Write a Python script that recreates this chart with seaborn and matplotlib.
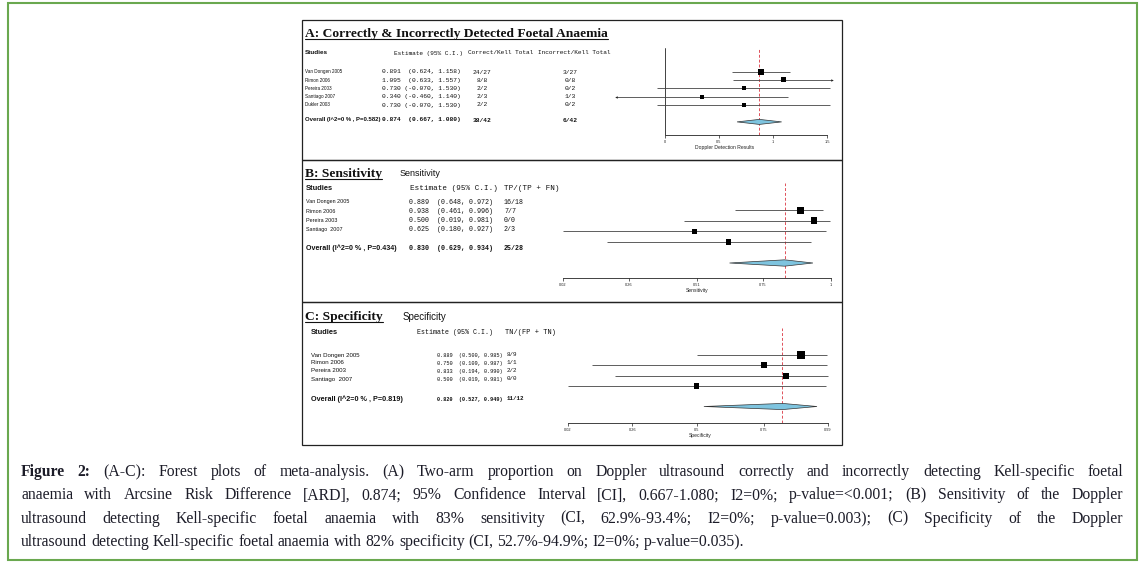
import numpy as np
import pandas as pd
import matplotlib
matplotlib.use('Agg')
import matplotlib.pyplot as plt
import seaborn as sns
from matplotlib.patches import Rectangle, Polygon

W, H = 1147, 568

# ---- panel A: two-arm, arcsine risk difference
a_studies = ['Van Dongen 2005', 'Rimon 2006', 'Pereira 2003', 'Santiago 2007', 'Dukler 2003']
a_est = [0.891, 1.095, 0.730, 0.340, 0.730]
a_lo = [0.624, 0.633, -0.070, -0.460, -0.070]
a_hi = [1.158, 1.557, 1.530, 1.140, 1.530]
a_correct = ['24/27', '8/8', '2/2', '2/3', '2/2']
a_incorrect = ['3/27', '0/8', '0/2', '1/3', '0/2']
a_box = [6, 5, 4, 4, 4]
a_overall = [0.874, 0.667, 1.080]
a_overall_n = ['38/42', '6/42']
a_het = 'Overall (I^2=0 % , P=0.582)'
a_ticks = [0, 0.5, 1, 1.5]
a_ticklabels = ['0', '0.5', '1', '1.5']

# ---- panel B: sensitivity
b_studies = ['Van Dongen 2005', 'Rimon 2006', 'Pereira 2003', 'Santiago  2007']
b_est = [0.889, 0.938, 0.500, 0.625]
b_lo = [0.648, 0.461, 0.019, 0.180]
b_hi = [0.972, 0.996, 0.981, 0.927]
b_counts = ['16/18', '7/7', '0/0', '2/3']
b_box = [7, 6.5, 5, 5.5]
b_overall = [0.830, 0.629, 0.934]
b_overall_n = '25/28'
b_het = 'Overall (I^2=0 % , P=0.434)'
b_ticks = [0.02, 0.26, 0.51, 0.75, 1]
b_ticklabels = ['0.02', '0.26', '0.51', '0.75', '1']

# ---- panel C: specificity
c_studies = ['Van Dongen 2005', 'Rimon 2006', 'Pereira 2003', 'Santiago  2007']
c_est = [0.889, 0.750, 0.833, 0.500]
c_lo = [0.500, 0.109, 0.194, 0.019]
c_hi = [0.985, 0.987, 0.990, 0.981]
c_counts = ['8/9', '1/1', '2/2', '0/0']
c_box = [7.5, 6, 6, 5.5]
c_overall = [0.820, 0.527, 0.949]
c_overall_n = '11/12'
c_het = 'Overall (I^2=0 % , P=0.819)'
c_ticks = [0.02, 0.26, 0.5, 0.75, 0.99]
c_ticklabels = ['0.02', '0.26', '0.5', '0.75', '0.99']

caption = [
    'Figure 2: (A-C): Forest plots of meta-analysis. (A) Two-arm proportion on Doppler ultrasound correctly and incorrectly detecting Kell-specific foetal',
    'anaemia with Arcsine Risk Difference [ARD], 0.874; 95% Confidence Interval [CI], 0.667-1.080; I2=0%; p-value=<0.001; (B) Sensitivity of the Doppler',
    'ultrasound detecting Kell-specific foetal anaemia with 83% sensitivity (CI, 62.9%-93.4%; I2=0%; p-value=0.003); (C) Specificity of the Doppler',
    'ultrasound detecting Kell-specific foetal anaemia with 82% specificity (CI, 52.7%-94.9%; I2=0%; p-value=0.035).',
]

sns.set_theme(style='white')
plt.rcParams['font.family'] = ['Liberation Sans', 'DejaVu Sans']

SANS = 'Liberation Sans'
MONO = 'Liberation Mono'
SERIF = 'Liberation Serif'

fig = plt.figure(figsize=(W / 100, H / 100), dpi=100)
bg = fig.add_axes([0, 0, 1, 1])
bg.set_xlim(0, W)
bg.set_ylim(H, 0)
bg.axis('off')
renderer = fig.canvas.get_renderer()


def txt(x, y, s, size, family=SANS, weight='normal', ha='left', color='#111'):
    return bg.text(x, y, s, fontsize=size, family=family, fontweight=weight,
                   ha=ha, va='center', color=color)


def title(x, y, s, size):
    t = txt(x, y, s, size, family=SERIF, weight='bold')
    bb = t.get_window_extent(renderer=renderer)
    bg.plot([x, x + bb.width], [y + bb.height * 0.42] * 2, color='#111', lw=0.8)


def ci_str(e, l, h):
    return f'{e:.3f} ' + f'({l:.3f}, {h:.3f})'.rjust(15)


# outer green frame and the three panel boxes
bg.add_patch(Rectangle((8, 3), 1129, 557, fill=False, ec='#6aa84f', lw=1.5))
for top, bot in [(20, 160), (160, 302), (302, 445)]:
    bg.add_patch(Rectangle((302, top), 540, bot - top, fill=False, ec='#222', lw=0.9))


def forest(box, xmap, py0, dy, est, lo, hi, sizes, overall, ov_idx, ticks, labels,
           xlabel, dh, clip=None, null_line=False):
    L, T, R, B = box
    d0, p0, d1, p1 = xmap
    s = (p1 - p0) / (d1 - d0)
    ax = fig.add_axes([L / W, 1 - B / H, (R - L) / W, (B - T) / H])
    ax.patch.set_alpha(0)
    ax.set_xlim(d0 + (L - p0) / s, d0 + (R - p0) / s)
    ax.set_ylim((B - py0) / dy, (T - py0) / dy)
    df = pd.DataFrame({'est': est, 'lo': lo, 'hi': hi, 'row': np.arange(len(est)),
                       'area': [(v * 0.72) ** 2 for v in sizes]})
    x0 = df['lo'].to_numpy(dtype=float)
    x1 = df['hi'].to_numpy(dtype=float)
    if clip is not None:
        x0c, x1c = np.clip(x0, *clip), np.clip(x1, *clip)
    else:
        x0c, x1c = x0, x1
    ax.hlines(df['row'], x0c, x1c, color='#444', lw=0.6, zorder=2)
    if clip is not None:
        for r, a, b, ac, bc in zip(df['row'], x0, x1, x0c, x1c):
            if a < ac:
                ax.plot(ac, r, marker='<', ms=1.8, color='#222', mew=0)
            if b > bc:
                ax.plot(bc, r, marker='>', ms=1.8, color='#222', mew=0)
    sns.scatterplot(data=df, x='est', y='row', marker='s', color='black', s=df['area'],
                    edgecolor='black', linewidth=0, legend=False, ax=ax, zorder=3)
    e, l, h = overall
    ax.add_patch(Polygon([(l, ov_idx), (e, ov_idx - dh), (h, ov_idx), (e, ov_idx + dh)],
                         closed=True, fc='#7ec4df', ec='#333', lw=0.5, zorder=3))
    ax.axvline(e, color='#e0505a', ls=(0, (3, 2)), lw=0.7, zorder=1)
    if null_line:
        ax.axvline(0, color='#222', lw=0.6, zorder=1)
    sns.despine(ax=ax, left=True)
    ax.spines['bottom'].set_bounds(ticks[0], ticks[-1])
    ax.spines['bottom'].set_linewidth(0.6)
    ax.spines['bottom'].set_color('#222')
    ax.set_xticks(ticks)
    ax.set_xticklabels(labels)
    ax.set_yticks([])
    ax.tick_params(axis='x', bottom=True, length=2, width=0.5, pad=1.5,
                   labelsize=2.8, colors='#222')
    ax.set_xlabel(xlabel, fontsize=3.6, labelpad=0.6, color='#222')
    ax.set_ylabel('')
    return ax


# ---- panel A
title(305, 34, 'A: Correctly & Incorrectly Detected Foetal Anaemia', 9.7)
txt(305, 53, 'Studies', 4.6, weight='bold')
txt(394, 53, 'Estimate (95% C.I.)', 4.4, family=MONO)
txt(468, 53, 'Correct/Kell Total', 4.4, family=MONO)
txt(538, 53, 'Incorrect/Kell Total', 4.4, family=MONO)
for i in range(len(a_studies)):
    y = 72 + 8.25 * i
    txt(305, y, a_studies[i], 3.3)
    txt(382, y, ci_str(a_est[i], a_lo[i], a_hi[i]), 4.5, family=MONO)
    txt(482, y, a_correct[i], 4.5, family=MONO, ha='center')
    txt(570, y, a_incorrect[i], 4.5, family=MONO, ha='center')
txt(305, 120, a_het, 4.3, weight='bold')
txt(382, 120, ci_str(*a_overall), 4.5, family=MONO, weight='bold')
txt(482, 120, a_overall_n[0], 4.5, family=MONO, weight='bold', ha='center')
txt(570, 120, a_overall_n[1], 4.5, family=MONO, weight='bold', ha='center')
forest((610, 48, 840, 135), (0, 665, 1.5, 827), 71.5, 8.4, a_est, a_lo, a_hi, a_box,
       a_overall, 6.0, a_ticks, a_ticklabels, 'Doppler Detection Results', 0.3,
       clip=(-0.45, 1.55), null_line=True)

# ---- panel B
title(305, 174, 'B: Sensitivity', 9.7)
txt(400, 173, 'Sensitivity', 6.5)
txt(306, 189, 'Studies', 5.4, weight='bold')
txt(410, 189, 'Estimate (95% C.I.)', 5.5, family=MONO)
txt(504, 189, 'TP/(TP + FN)', 5.5, family=MONO)
for i in range(len(b_studies)):
    y = 202 + 9.2 * i
    txt(306, y, b_studies[i], 3.9)
    txt(409, y, ci_str(b_est[i], b_lo[i], b_hi[i]), 4.8, family=MONO)
    txt(504, y, b_counts[i], 4.8, family=MONO)
txt(306, 248, b_het, 5.1, weight='bold')
txt(409, 248, ci_str(*b_overall), 4.8, family=MONO, weight='bold')
txt(504, 248, b_overall_n, 4.8, family=MONO, weight='bold')
forest((555, 183, 840, 278), (0.02, 563, 1, 831), 210, 10.6, b_est, b_lo, b_hi, b_box,
       b_overall, 5, b_ticks, b_ticklabels, 'Sensitivity', 0.3)

# ---- panel C
title(305, 317, 'C: Specificity', 9.7)
txt(403, 317, 'Specificity', 7.0)
txt(311, 333, 'Studies', 5.4, weight='bold')
txt(417, 333, 'Estimate (95% C.I.)', 4.8, family=MONO)
txt(505, 333, 'TN/(FP + TN)', 5.0, family=MONO)
for i in range(len(c_studies)):
    y = 355 + 8 * i
    txt(311, y, c_studies[i], 4.4)
    txt(437, y, ci_str(c_est[i], c_lo[i], c_hi[i]), 3.8, family=MONO)
    txt(507, y, c_counts[i], 4.2, family=MONO)
txt(311, 399, c_het, 5.2, weight='bold')
txt(437, 399, ci_str(*c_overall), 3.8, family=MONO, weight='bold')
txt(507, 399, c_overall_n, 4.2, family=MONO, weight='bold')
forest((560, 328, 840, 423), (0.02, 568, 0.99, 828), 355, 10.3, c_est, c_lo, c_hi, c_box,
       c_overall, 5, c_ticks, c_ticklabels, 'Specificity', 0.3)

# ---- caption, justified except the last line
CAP = 11.3
left, right = 21, 1123
for k, line in enumerate(caption):
    y = 472 + 23.3 * k
    words = line.split(' ')
    bold_n = 2 if k == 0 else 0
    arts = []
    for j, w in enumerate(words):
        arts.append(bg.text(0, y, w, fontsize=CAP, family=SERIF, va='center',
                            fontweight='bold' if j < bold_n else 'normal', color='#1c1c28'))
    widths = [a.get_window_extent(renderer=renderer).width for a in arts]
    t1 = bg.text(0, y, 'a a', fontsize=CAP, family=SERIF)
    t2 = bg.text(0, y, 'aa', fontsize=CAP, family=SERIF)
    space = t1.get_window_extent(renderer=renderer).width - t2.get_window_extent(renderer=renderer).width
    t1.remove()
    t2.remove()
    if k < len(caption) - 1:
        gap = (right - left - sum(widths)) / (len(words) - 1)
    else:
        gap = space
    x = left
    for a, wd in zip(arts, widths):
        a.set_x(x)
        x += wd + gap

fig.savefig('out.png', dpi=100)
